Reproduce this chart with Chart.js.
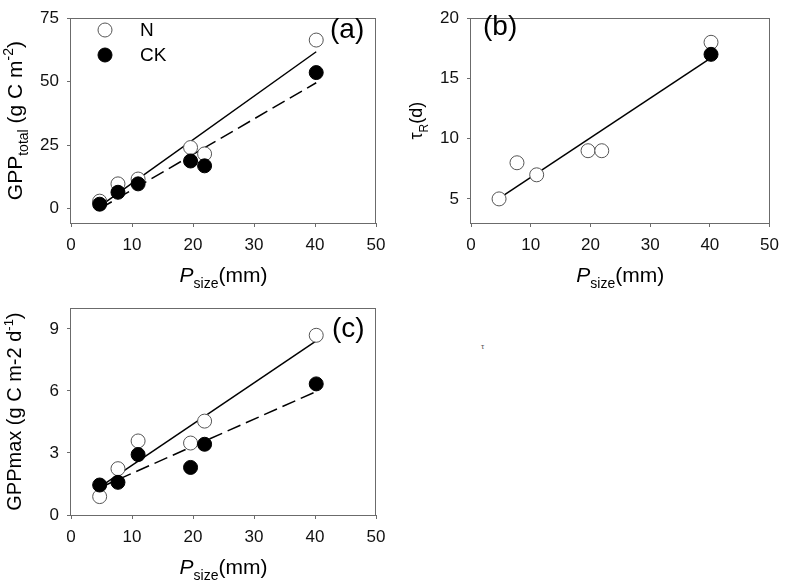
<!DOCTYPE html>
<html>
<head>
<meta charset="utf-8">
<script src="https://cdn.jsdelivr.net/npm/chart.js@4.4.0/dist/chart.umd.min.js"></script>
<style>
  body { margin: 0; background: #fff; width: 787px; height: 580px; overflow: hidden; position: relative; font-family: Arial, "Liberation Sans", sans-serif; }
  .panel { position: absolute; }
  #stray { position: absolute; left: 481px; top: 342px; font-size: 8px; color: #555; }
</style>
</head>
<body>
<div class="panel" style="left:0;top:0;width:400px;height:290px"><canvas id="chartA" width="400" height="290"></canvas></div>
<div class="panel" style="left:400px;top:0;width:387px;height:290px"><canvas id="chartB" width="387" height="290"></canvas></div>
<div class="panel" style="left:0;top:290px;width:400px;height:290px"><canvas id="chartC" width="400" height="290"></canvas></div>
<span id="stray">τ</span>
<script>
// --- datos ---
const pSize = [4.7, 7.7, 11.0, 19.6, 21.9, 40.2];
const xTicks = [0, 10, 20, 30, 40, 50];

const gppTotalN  = [3.0, 9.8, 11.7, 24.1, 21.6, 66.4];
const gppTotalCK = [1.8, 6.5, 9.8, 18.8, 16.9, 53.6];
const yTicksA = [0, 25, 50, 75];

const tauRN   = [5, 8, 7, 9, 9, 18];
const tauRCKx = [40.2];
const tauRCK  = [17];
const yTicksB = [5, 10, 15, 20];

const gppMaxN  = [0.89, 2.24, 3.58, 3.48, 4.54, 8.69];
const gppMaxCK = [1.45, 1.58, 2.92, 2.30, 3.42, 6.34];
const yTicksC = [0, 3, 6, 9];

// rectas de ajuste, extremos
const fitX       = [4.7, 40.2];
const fitTotalN  = [0.9, 61.8];
const fitTotalCK = [0.0, 49.6];
const fitTauR    = [5.05, 16.7];
const fitMaxN    = [1.35, 8.42];
const fitMaxCK   = [1.32, 5.97];

const FONT = 'Arial, "Liberation Sans", sans-serif';
const pts = (xs, ys) => xs.map((x, i) => ({ x: x, y: ys[i] }));

function openSet(label, xs, ys) {
    return { label: label, data: pts(xs, ys), backgroundColor: '#fff', borderColor: '#555',
             borderWidth: 1, pointRadius: 7, order: 2 };
}
function filledSet(label, xs, ys) {
    return { label: label, data: pts(xs, ys), backgroundColor: '#000', borderColor: '#000',
             borderWidth: 1, pointRadius: 7, order: 1 };
}
function fitSet(ys, dashed) {
    return { data: pts(fitX, ys), showLine: true, pointRadius: 0, borderColor: '#000',
             borderWidth: 1.5, borderDash: dashed ? [14, 6] : [], order: 3 };
}

function partFont(p, size) {
    const s = (p.sub || p.sup) ? Math.round(size * 0.67) : size;
    return (p.it ? 'italic ' : '') + s + 'px ' + FONT;
}

// texto con subíndices / superíndices, centrado en (cx, cy)
function drawRich(ctx, parts, cx, cy, size, rotate) {
    ctx.save();
    ctx.translate(cx, cy);
    if (rotate) ctx.rotate(-Math.PI / 2);
    let w = 0;
    parts.forEach(p => { ctx.font = partFont(p, size); w += ctx.measureText(p.t).width; });
    let x = -w / 2;
    ctx.textBaseline = 'alphabetic';
    ctx.textAlign = 'left';
    ctx.fillStyle = '#000';
    parts.forEach(p => {
        ctx.font = partFont(p, size);
        const dy = p.sub ? size * 0.3 : (p.sup ? -size * 0.42 : 0);
        ctx.fillText(p.t, x, size * 0.36 + dy);
        x += ctx.measureText(p.t).width;
    });
    ctx.restore();
}

const decor = {
    id: 'decor',
    beforeDatasetsDraw(chart) {
        const ctx = chart.ctx, a = chart.chartArea;
        ctx.save();
        ctx.strokeStyle = '#6b6b6b';
        ctx.lineWidth = 1;
        const l = Math.round(a.left) - 0.5, t = Math.round(a.top) + 0.5;
        const r = Math.round(a.right) - 0.5, b = Math.round(a.bottom) + 0.5;
        ctx.strokeRect(l, t, r - l, b - t);
        ctx.restore();
    },
    afterDraw(chart, args, o) {
        const ctx = chart.ctx, a = chart.chartArea;
        drawRich(ctx, o.xTitle, (a.left + a.right) / 2, a.bottom + 51, o.xSize, false);
        drawRich(ctx, o.yTitle, o.yTitleX, (a.top + a.bottom) / 2, o.ySize, true);

        ctx.save();
        ctx.fillStyle = '#000';
        ctx.textBaseline = 'middle';
        ctx.textAlign = 'left';
        ctx.font = '28px ' + FONT;
        ctx.fillText(o.panel, o.panelX, o.panelY);

        if (o.legend) {
            const sets = chart.data.datasets.filter(d => d.label);
            const rows = [sets.find(d => d.label === 'N'), sets.find(d => d.label === 'CK')];
            ctx.font = '19px ' + FONT;
            rows.forEach((d, i) => {
                const y = 30 + i * 25;
                ctx.beginPath();
                ctx.arc(105, y, d.pointRadius, 0, Math.PI * 2);
                ctx.fillStyle = d.backgroundColor;
                ctx.fill();
                ctx.lineWidth = d.borderWidth;
                ctx.strokeStyle = d.borderColor;
                ctx.stroke();
                ctx.fillStyle = '#000';
                ctx.fillText(d.label, 140, y + 1);
            });
        }
        ctx.restore();
    }
};

function axis(min, max, ticks, dir, size) {
    return {
        type: 'linear',
        min: min,
        max: max,
        afterBuildTicks: s => { s.ticks = ticks.map(v => ({ value: v })); },
        afterFit: s => { if (dir === 'x') s.height = size; else s.width = size; },
        grid: { drawOnChartArea: false, drawTicks: true, tickLength: 4, color: '#6b6b6b' },
        border: { display: false },
        ticks: { color: '#111', padding: dir === 'x' ? 8 : 8, font: { family: FONT, size: 17 } }
    };
}

function makePanel(id, opt) {
    return new Chart(document.getElementById(id), {
        type: 'scatter',
        data: { datasets: opt.datasets },
        options: {
            responsive: false,
            animation: false,
            events: [],
            layout: { autoPadding: false, padding: { left: 0, top: opt.top, right: opt.right, bottom: 0 } },
            elements: { line: { tension: 0 } },
            datasets: { scatter: { clip: false } },
            scales: {
                x: axis(0, 50, xTicks, 'x', opt.xHeight),
                y: axis(opt.yMin, opt.yMax, opt.yTicks, 'y', 71)
            },
            plugins: {
                legend: { display: false },
                tooltip: { enabled: false },
                decor: opt.decor
            }
        },
        plugins: [decor]
    });
}

const xTitle = [{ t: 'P', it: true }, { t: 'size', sub: true }, { t: '(mm)' }];

makePanel('chartA', {
    top: 7, right: 24, xHeight: 67, yMin: -5.6, yMax: 75, yTicks: yTicksA,
    datasets: [
        filledSet('CK', pSize, gppTotalCK),
        openSet('N', pSize, gppTotalN),
        fitSet(fitTotalN, false),
        fitSet(fitTotalCK, true)
    ],
    decor: {
        xTitle: xTitle, xSize: 21,
        yTitle: [{ t: 'GPP' }, { t: 'total', sub: true }, { t: ' (g C m' }, { t: '-2', sup: true }, { t: ')' }],
        ySize: 21, yTitleX: 14,
        panel: '(a)', panelX: 330, panelY: 30, legend: true
    }
});

makePanel('chartB', {
    top: 7, right: 11, xHeight: 67, yMin: 3, yMax: 20, yTicks: yTicksB,
    datasets: [
        filledSet('CK', tauRCKx, tauRCK),
        openSet('N', pSize, tauRN),
        fitSet(fitTauR, false)
    ],
    decor: {
        xTitle: xTitle, xSize: 21,
        yTitle: [{ t: 'τ' }, { t: 'R', sub: true }, { t: '(d)' }],
        ySize: 18, yTitleX: 16,
        panel: '(b)', panelX: 83, panelY: 27, legend: false
    }
});

makePanel('chartC', {
    top: 10, right: 24, xHeight: 65, yMin: 0, yMax: 10, yTicks: yTicksC,
    datasets: [
        filledSet('CK', pSize, gppMaxCK),
        openSet('N', pSize, gppMaxN),
        fitSet(fitMaxN, false),
        fitSet(fitMaxCK, true)
    ],
    decor: {
        xTitle: xTitle, xSize: 21,
        yTitle: [{ t: 'GPPmax (g C m-2 d' }, { t: '-1', sup: true }, { t: ')' }],
        ySize: 20, yTitleX: 14,
        panel: '(c)', panelX: 332, panelY: 39, legend: false
    }
});
</script>
</body>
</html>
